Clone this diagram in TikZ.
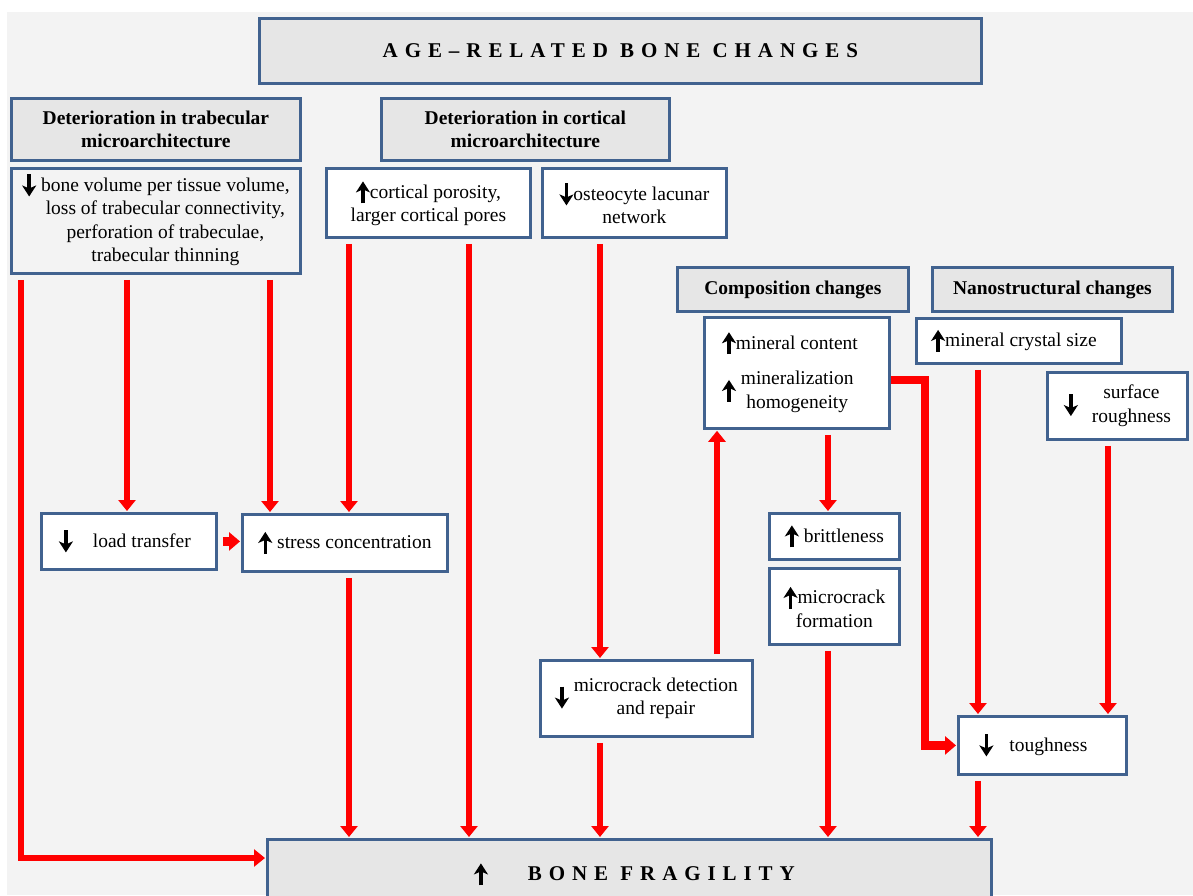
\documentclass[tikz,border=0pt]{standalone}
\usepackage{fontspec}
\setmainfont{Liberation Serif}
\usetikzlibrary{arrows.meta}
\definecolor{boxline}{RGB}{65,98,143}
\definecolor{headfill}{RGB}{230,230,230}
\definecolor{pagefill}{RGB}{243,243,243}
% small black up/down arrows used inside the boxes
\newcommand\arrup{\tikz[baseline=0pt,x=1pt,y=1pt]\draw[black,line width=3.4pt,-{Stealth[width=14pt,length=11pt,inset=3pt]}] (0,-5)--(0,17);}
\newcommand\arrdn{\tikz[baseline=0pt,x=1pt,y=1pt]\draw[black,line width=3.4pt,-{Stealth[width=14pt,length=11pt,inset=3pt]}] (0,17)--(0,-5);}
\newcommand\spaced[1]{{\fontsize{21}{25}\selectfont\bfseries\addfontfeature{LetterSpace=33}#1}}
\begin{document}
\begin{tikzpicture}[x=1pt,y=-1pt,
  box/.style={draw=boxline,line width=2.8pt,fill=white,inner sep=0pt,anchor=north west,
    align=center,font=\fontsize{19.5}{23.5}\selectfont},
  head/.style={box,fill=headfill,font=\fontsize{19.5}{23.5}\selectfont\bfseries},
  link/.style={draw=red,line width=6.5pt,shorten <=5pt,shorten >=1pt,-{Triangle[width=17pt,length=11pt]}},
  fatlink/.style={link,line width=8.5pt,-{Triangle[width=18pt,length=11pt]}}]
  \useasboundingbox (0,0) rectangle (1193,895);
  \fill[pagefill] (7,12) rectangle (1193,895);

  % headings
  \node[head,minimum width=722,minimum height=65] (title) at (258,17) {\spaced{AGE–RELATED BONE CHANGES}};
  \node[head,minimum width=289,minimum height=62] (trabhead) at (10,97) {Deterioration in trabecular\\microarchitecture};
  \node[head,minimum width=288,minimum height=62] (corthead) at (380,97) {Deterioration in cortical\\microarchitecture};
  \node[head,minimum width=231,minimum height=44] (comphead) at (676,266) {Composition changes};
  \node[head,minimum width=240,minimum height=44] (nanohead) at (931,266) {Nanostructural changes};

  % changes
  \node[box,fill=pagefill,minimum width=289,minimum height=105] (trab) at (10,167)
    {\arrdn\ \begin{tabular}[t]{@{}c@{}}bone volume per tissue volume,\\loss of trabecular connectivity,\\perforation of trabeculae,\\trabecular thinning\end{tabular}};
  \node[box,minimum width=204,minimum height=69] (porosity) at (325,167) {\arrup cortical porosity,\\larger cortical pores};
  \node[box,minimum width=184,minimum height=69] (lacunar) at (541,167) {\arrdn osteocyte lacunar\\network};
  \node[box,minimum width=185,minimum height=111] (mineral) at (703,316)
    {\begin{tabular}{@{}l@{}}\arrup mineral content\\[12pt]\arrup\ \begin{tabular}[c]{@{}c@{}}mineralization\\homogeneity\end{tabular}\end{tabular}\hspace{14pt}};
  \node[box,minimum width=205,minimum height=45] (crystal) at (915,317) {\arrup mineral crystal size\hspace{10pt}};
  \node[box,minimum width=140,minimum height=67] (rough) at (1046,371)
    {\arrdn\hspace{14pt}\begin{tabular}[c]{@{}c@{}}surface\\roughness\end{tabular}};

  % consequences
  \node[box,minimum width=175,minimum height=56] (load) at (40,512) {\arrdn\hspace{20pt}load transfer\hspace{8pt}};
  \node[box,minimum width=205,minimum height=57] (stress) at (241,513) {\arrup\ stress concentration};
  \node[box,minimum width=130,minimum height=46] (brittle) at (768,512) {\arrup\ brittleness};
  \node[box,minimum width=130,minimum height=76] (formation) at (768,567) {\arrup microcrack\\formation};
  \node[box,minimum width=212,minimum height=76] (repair) at (539,659)
    {\arrdn\ \begin{tabular}[c]{@{}c@{}}microcrack detection\\and repair\end{tabular}};
  \node[box,minimum width=168,minimum height=58] (tough) at (957,715) {\arrdn\hspace{16pt}toughness\hspace{18pt}};
  \node[head,minimum width=724,minimum height=70] (fragility) at (266,838)
    {\hspace{10pt}\arrup\hspace{40pt}\spaced{BONE FRAGILITY}};

  % links
  \draw[link] (trab.south -| 21,0) |- (fragility.west |- 0,858);
  \draw[link] (trab.south -| 127,0) -- (load.north -| 127,0);
  \draw[link] (trab.south -| 270,0) -- (stress.north -| 270,0);
  \draw[link] (porosity.south -| 349,0) -- (stress.north -| 349,0);
  \draw[link] (porosity.south -| 469,0) -- (fragility.north -| 469,0);
  \draw[link] (lacunar.south -| 600,0) -- (repair.north -| 600,0);
  \draw[fatlink] (load.east) -- (load.east -| stress.west);
  \draw[link] (stress.south -| 349,0) -- (fragility.north -| 349,0);
  \draw[link] (repair.north -| 717,0) -- (mineral.south -| 717,0);
  \draw[link] (repair.south -| 600,0) -- (fragility.north -| 600,0);
  \draw[link] (mineral.south -| 828,0) -- (brittle.north -| 828,0);
  \draw[link] (formation.south -| 828,0) -- (fragility.north -| 828,0);
  \draw[fatlink,shorten <=0pt] (mineral.east |- 0,380) -| ([xshift=-32pt]tough.west) -- (tough.west);
  \draw[link] (crystal.south -| 978,0) -- (tough.north -| 978,0);
  \draw[link] (rough.south -| 1108,0) -- (tough.north -| 1108,0);
  \draw[link] (tough.south -| 978,0) -- (fragility.north -| 978,0);
\end{tikzpicture}
\end{document}
